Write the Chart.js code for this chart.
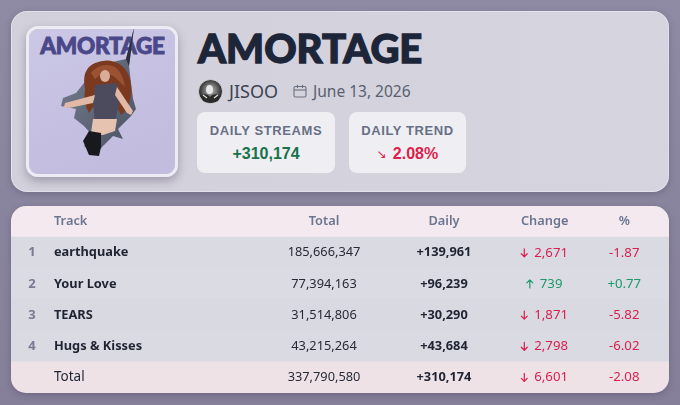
<!DOCTYPE html>
<html>
<head>
<meta charset="utf-8">
<script src="https://cdn.jsdelivr.net/npm/chart.js@4.4.1/dist/chart.umd.min.js"></script>
<style>
html,body{margin:0;padding:0;width:680px;height:405px;overflow:hidden;}
body{position:relative;background:linear-gradient(180deg,#8f8ba4 0%,#857f99 100%);font-family:"Noto Sans",sans-serif;}
.card{position:absolute;left:11px;top:11px;width:658px;height:181px;border-radius:16px;background:linear-gradient(90deg,#d2d0da,#d6d4de);box-shadow:0 2px 6px rgba(40,30,70,0.25);border:1px solid rgba(255,255,255,0.35);box-sizing:border-box;}
.art{position:absolute;left:26px;top:26px;width:146px;height:145px;border:3px solid rgba(240,238,246,0.9);border-radius:12px;overflow:hidden;box-shadow:0 4px 10px rgba(40,30,70,0.3);}
.art svg{display:block;}
.title{position:absolute;left:198px;top:22px;font-family:Lato,"DejaVu Sans",sans-serif;font-weight:900;font-size:40px;line-height:52px;color:#1d2639;letter-spacing:0px;-webkit-text-stroke:1.3px #1d2639;}
.avatar{position:absolute;left:198px;top:79px;}
.artist{position:absolute;left:229px;top:79px;font-size:18px;line-height:24px;color:#3b4354;}
.cal{position:absolute;left:293px;top:84px;}
.date{position:absolute;left:313px;top:80px;font-size:15.5px;line-height:22px;color:#596070;}
.stat{position:absolute;top:112px;height:61px;border-radius:8px;background:#efeef3;text-align:center;font-family:"Liberation Sans",Arial,sans-serif;}
.stat .lab{margin-top:11px;font-size:13px;font-weight:bold;letter-spacing:0.6px;color:#687085;line-height:16px;}
.stat .val{margin-top:5px;font-size:16px;font-weight:bold;line-height:20px;}
.tablecard{position:absolute;left:11px;top:206px;width:658px;height:187px;border-radius:15px;overflow:hidden;box-shadow:0 2px 6px rgba(40,30,70,0.25);}
</style>
</head>
<body>
<div class="card"></div>
<div class="art">
<svg width="146" height="145" viewBox="0 0 146 145">
<defs>
<linearGradient id="abg" x1="0" y1="0" x2="0.4" y2="1"><stop offset="0" stop-color="#cbc7e5"/><stop offset="1" stop-color="#c2bcdf"/></linearGradient>
<linearGradient id="hole" x1="0" y1="0" x2="1" y2="1"><stop offset="0" stop-color="#7a8394"/><stop offset="1" stop-color="#4a5162"/></linearGradient>
</defs>
<rect width="146" height="145" fill="url(#abg)"/>
<text x="73.5" y="25" text-anchor="middle" font-family="Lato" font-weight="900" font-size="22.5" fill="#4b4889" stroke="#4b4889" stroke-width="0.9" letter-spacing="-0.2">AMORTAGE</text>
<polygon points="105,-1 97,30 74,35 55,54 47,64 34,69 32,77 47,80 45,89 55,97 64,107 55,117 67,125 74,117 84,107 94,110 89,100 102,87 107,80 104,70 102,54 100,37" fill="url(#hole)"/>
<polygon points="105,-1 97,30 100,37" fill="#2c3040"/>
<path d="M56,60 Q52,40 66,34 Q80,28 92,36 Q104,46 102,66 Q100,80 92,86 L84,70 L68,72 L60,84 Q54,74 56,60 Z" fill="#7b3a1f"/>
<path d="M62,44 Q72,32 86,38 Q94,44 96,58 L88,50 Q78,40 66,50 Z" fill="#9a5232"/>
<ellipse cx="76" cy="47" rx="5" ry="6" fill="#d9ad9a"/>
<path d="M66,56 L88,54 L90,76 L86,92 L66,94 L64,74 Z" fill="#4b4b5d"/>
<path d="M66,66 L36,74 L35,78 L40,79 L64,74 Z" fill="#e2b9a6"/>
<path d="M88,58 L104,82 L102,86 L98,84 L86,66 Z" fill="#e2b9a6"/>
<path d="M64,90 L88,90 L86,102 L74,106 L62,104 Z" fill="#e6c2b0"/>
<path d="M60,102 L72,104 L72,118 L70,127 L60,126 L54,112 Z" fill="#18181f"/>
</svg>
</div>
<div class="title">AMORTAGE</div>
<svg class="avatar" width="25" height="25" viewBox="0 0 25 25">
<defs><radialGradient id="av" cx="0.5" cy="0.45" r="0.55"><stop offset="0" stop-color="#bdbdbd"/><stop offset="0.5" stop-color="#6a6a6a"/><stop offset="1" stop-color="#151515"/></radialGradient></defs>
<circle cx="12.5" cy="12.5" r="12" fill="url(#av)" stroke="#e8e8e8" stroke-width="0.8"/>
<ellipse cx="11.5" cy="10.5" rx="3.5" ry="4.5" fill="#e6e6e6"/>
<path d="M3,17 Q8,13 12,18 Q16,13 22,17 L20,22 Q12,25 5,22 Z" fill="#2a2a2a"/>
<path d="M5,16 L9,19 M16,19 L20,16" stroke="#dddddd" stroke-width="1.2"/>
</svg>
<div class="artist">JISOO</div>
<svg class="cal" width="14" height="14" viewBox="0 0 14 14">
<rect x="1" y="2.5" width="12" height="10.5" rx="1.5" fill="none" stroke="#6a7080" stroke-width="1.1"/>
<line x1="1" y1="6" x2="13" y2="6" stroke="#6a7080" stroke-width="1.1"/>
<line x1="4.5" y1="0.8" x2="4.5" y2="4" stroke="#6a7080" stroke-width="1.1"/>
<line x1="9.5" y1="0.8" x2="9.5" y2="4" stroke="#6a7080" stroke-width="1.1"/>
</svg>
<div class="date">June 13, 2026</div>
<div class="stat" style="left:197px;width:138px;"><div class="lab">DAILY STREAMS</div><div class="val" id="statStreams" style="color:#16734a;"></div></div>
<div class="stat" style="left:349px;width:117px;"><div class="lab">DAILY TREND</div><div class="val" id="statTrend" style="color:#dc1f4b;"></div></div>
<div class="tablecard"><canvas id="tbl"></canvas></div>
<script>
// ---- data ----
const headers = ['Track', 'Total', 'Daily', 'Change', '%'];
const ranks = ['1', '2', '3', '4'];
const tracks = ['earthquake', 'Your Love', 'TEARS', 'Hugs & Kisses'];
const totals = [185666347, 77394163, 31514806, 43215264];
const dailies = [139961, 96239, 30290, 43684];
const changes = [-2671, 739, -1871, -2798];
const pcts = [-1.87, 0.77, -5.82, -6.02];
const totalLabel = 'Total';
const totalAll = 337790580;
const dailyAll = 310174;
const changeAll = -6601;
const pctAll = -2.08;
const trendPct = 2.08;

const fmt = n => Math.abs(n).toLocaleString('en-US');
document.getElementById('statStreams').textContent = '+' + fmt(dailyAll);
document.getElementById('statTrend').innerHTML = '<span style="font-family:\'DejaVu Sans\';font-size:12px;font-weight:normal;position:relative;top:-1px;margin-right:6px;">\u2198</span>' + trendPct.toFixed(2) + '%';

const rowKeys = ['header'].concat(ranks, ['total']);
const RED = '#d81f4d', GREEN = '#1c9a6b';

const tablePlugin = {
  id: 'tableText',
  afterDatasetsDraw(chart, args, opts) {
    const ctx = chart.ctx, xs = chart.scales.x, ys = chart.scales.y;
    const cx = k => xs.getPixelForValue(opts.cols[k]);
    const F = (w, s) => w + ' ' + s + 'px "Noto Sans", sans-serif';
    const NS = 12.8;
    ctx.save();
    ctx.textBaseline = 'middle';
    const txt = (s, x, y, font, color, align) => { ctx.font = font; ctx.fillStyle = color; ctx.textAlign = align; ctx.fillText(s, x, y); };
    const arrow = (x, y, up, color) => {
      ctx.save(); ctx.strokeStyle = color; ctx.lineWidth = 1.2; ctx.lineCap = 'round'; ctx.lineJoin = 'round';
      const h = 4;
      ctx.beginPath();
      if (up) { ctx.moveTo(x, y + h); ctx.lineTo(x, y - h); ctx.moveTo(x - 3, y - h + 3); ctx.lineTo(x, y - h); ctx.lineTo(x + 3, y - h + 3); }
      else { ctx.moveTo(x, y - h); ctx.lineTo(x, y + h); ctx.moveTo(x - 3, y + h - 3); ctx.lineTo(x, y + h); ctx.lineTo(x + 3, y + h - 3); }
      ctx.stroke(); ctx.restore();
    };
    const change = (v, x, y) => {
      const color = v < 0 ? RED : GREEN;
      const s = fmt(v);
      ctx.font = F('normal', NS + 0.4);
      const tw = ctx.measureText(s).width, aw = 6, gap = 7;
      const start = x - (aw + gap + tw) / 2;
      arrow(start + aw / 2, y, v >= 0, color);
      txt(s, start + aw + gap, y, F('normal', NS + 0.4), color, 'left');
    };
    const pct = (v, x, y) => txt((v > 0 ? '+' : '') + v.toFixed(2), x, y, F('normal', NS + 0.4), v < 0 ? RED : GREEN, 'center');

    // header
    const hy = ys.getPixelForValue(0);
    const hf = F('600', 12.8), hc = '#6a7590';
    txt(headers[0], cx('track'), hy, hf, hc, 'left');
    txt(headers[1], cx('total'), hy, hf, hc, 'center');
    txt(headers[2], cx('daily'), hy, hf, hc, 'center');
    txt(headers[3], cx('change'), hy, hf, hc, 'center');
    txt(headers[4], cx('pct'), hy, hf, hc, 'center');

    // track rows
    for (let i = 0; i < tracks.length; i++) {
      const y = ys.getPixelForValue(i + 1);
      txt(ranks[i], cx('rank'), y, F('bold', 13), '#7b7993', 'center');
      txt(tracks[i], cx('track'), y, F('bold', NS), '#1f2433', 'left');
      txt(fmt(totals[i]), cx('total'), y, F('normal', NS), '#262b36', 'center');
      txt('+' + fmt(dailies[i]), cx('daily'), y, F('bold', NS), '#1f2433', 'center');
      change(changes[i], cx('change'), y);
      pct(pcts[i], cx('pct'), y);
    }
    // total row
    const ty = ys.getPixelForValue(rowKeys.length - 1);
    txt(totalLabel, cx('track'), ty, F('normal', 13.5), '#1f2433', 'left');
    txt(fmt(totalAll), cx('total'), ty, F('normal', NS), '#262b36', 'center');
    txt('+' + fmt(dailyAll), cx('daily'), ty, F('bold', NS), '#1f2433', 'center');
    change(changeAll, cx('change'), ty);
    pct(pctAll, cx('pct'), ty);
    ctx.restore();
  }
};

new Chart(document.getElementById('tbl'), {
  type: 'bar',
  data: {
    labels: rowKeys,
    datasets: [{
      data: rowKeys.map(() => 1),
      backgroundColor: ['#f4e9ee', '#dadae2', '#dbdbe3', '#d9d9e1', '#dadae2', '#efe2e7'],
      borderWidth: 0,
      barPercentage: 1,
      categoryPercentage: 1
    }]
  },
  options: {
    indexAxis: 'y',
    responsive: true,
    maintainAspectRatio: false,
    animation: false,
    events: [],
    layout: { padding: 0 },
    plugins: {
      legend: { display: false },
      tooltip: { enabled: false },
      tableText: { cols: { rank: 0.0319, track: 0.0653, total: 0.4757, daily: 0.658, change: 0.811, pct: 0.932 } }
    },
    scales: {
      x: { type: 'linear', min: 0, max: 1, display: false },
      y: {
        type: 'category',
        z: 1,
        ticks: { display: false },
        border: { display: false },
        grid: {
          offset: true,
          drawTicks: false,
          lineWidth: 1,
          color: c => ([2, 3, 4].includes(c.index) ? 'rgba(255,255,255,0.75)' : 'rgba(0,0,0,0)')
        },
        afterFit: s => { s.width = 0; }
      }
    }
  },
  plugins: [tablePlugin]
});
</script>
</body>
</html>
